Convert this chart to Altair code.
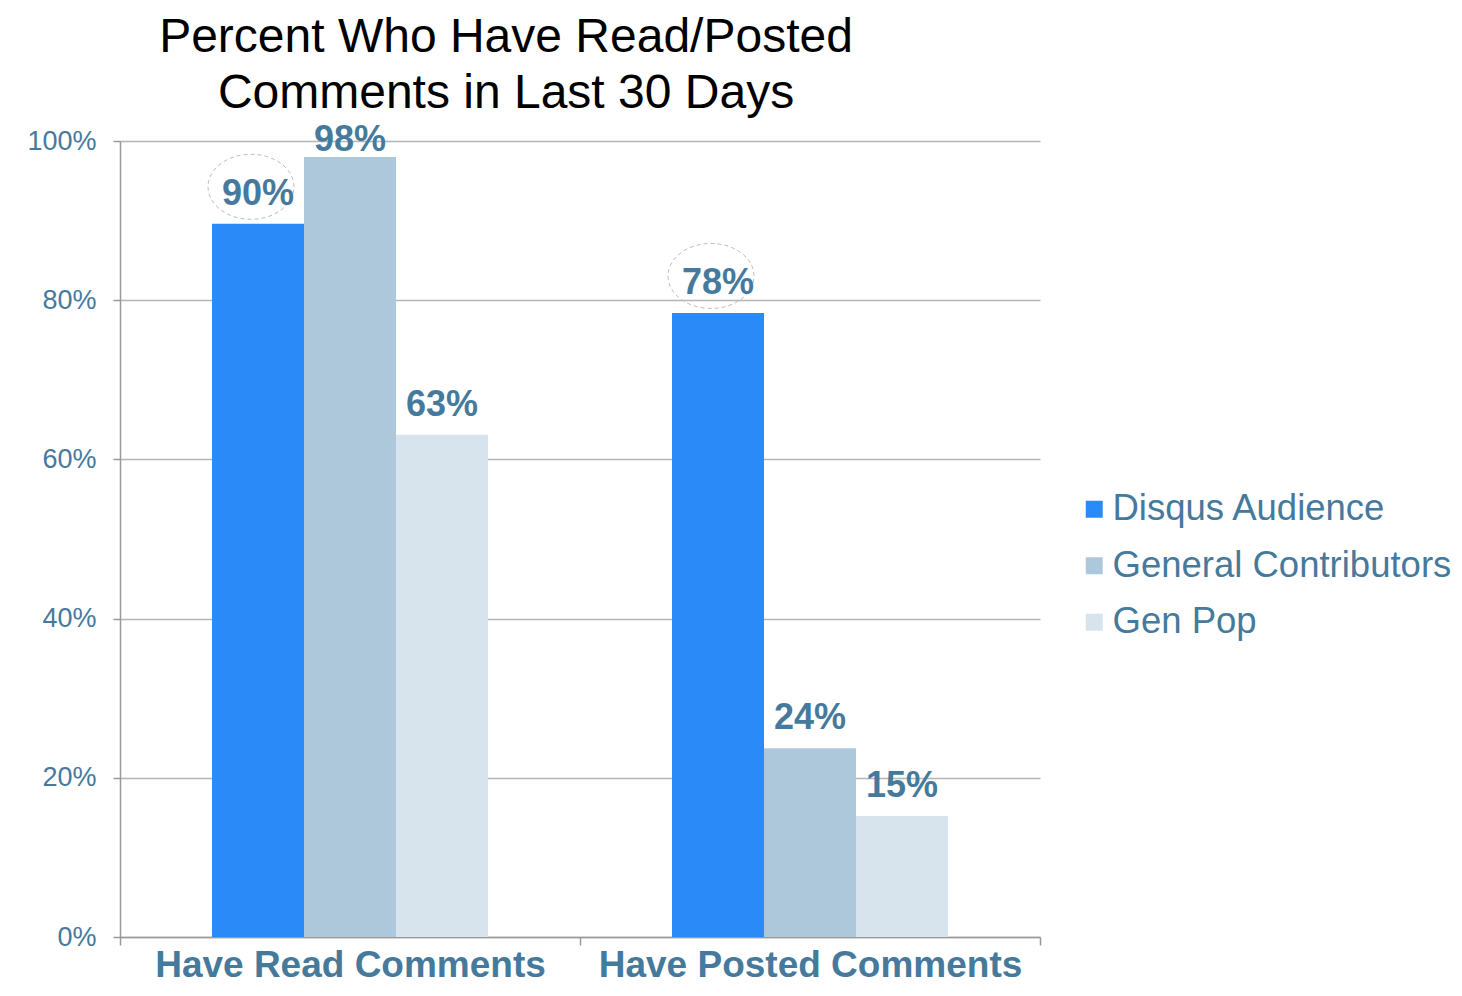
import altair as alt
import pandas as pd

categories = ["Have Read Comments", "Have Posted Comments"]
series = ["Disqus Audience", "General Contributors", "Gen Pop"]
read_values = [89.6, 98.0, 63.1]
posted_values = [78.4, 23.7, 15.2]
read_labels = ["90%", "98%", "63%"]
posted_labels = ["78%", "24%", "15%"]
colors = ["#2A8AF8", "#AEC8DB", "#D7E4EE"]
y_ticks = [0, 20, 40, 60, 80, 100]
title_lines = ["Percent Who Have Read/Posted", "Comments in Last 30 Days"]

rows = []
for cat, vals, labs in [(categories[0], read_values, read_labels),
                        (categories[1], posted_values, posted_labels)]:
    for s, v, l in zip(series, vals, labs):
        rows.append({"category": cat, "series": s, "value": v, "label": l})
df = pd.DataFrame(rows)

FONT = "Liberation Sans"
TXT = "#467A9C"

base = alt.Chart(df).encode(
    x=alt.X("category:N", sort=categories,
            scale=alt.Scale(paddingInner=0, paddingOuter=0),
            axis=alt.Axis(title=None, labelAngle=0, labelFontSize=37, labelFontWeight="bold",
                          labelFont=FONT, labelColor=TXT, labelPadding=2, labelLimit=700,
                          tickBand="extent", tickSize=8, tickColor="#999999", tickWidth=1.5,
                          domainColor="#999999", domainWidth=1.5, grid=False)),
    xOffset=alt.XOffset("series:N", sort=series,
                        scale=alt.Scale(paddingInner=0, paddingOuter=1)),
    y=alt.Y("value:Q", scale=alt.Scale(domain=[0, 100], nice=False),
            axis=alt.Axis(title=None, values=y_ticks, labelExpr="datum.value + '%'",
                          labelFontSize=27, labelFont=FONT, labelColor=TXT, labelPadding=17,
                          tickSize=7, tickColor="#999999", tickWidth=1.5,
                          domainColor="#999999", domainWidth=1.5,
                          gridColor="#b5b5b5", gridWidth=1.5)),
)

bars = base.mark_bar().encode(
    color=alt.Color("series:N", sort=series,
                    scale=alt.Scale(domain=series, range=colors),
                    legend=alt.Legend(title=None, orient="none", legendX=956, legendY=350,
                                      symbolType="square", symbolSize=289, symbolStrokeWidth=0,
                                      labelFontSize=36.5, labelFont=FONT, labelColor=TXT,
                                      labelOffset=0, rowPadding=19.5, labelLimit=600))
)

text_normal = base.transform_filter("datum.value < 95").mark_text(
    baseline="alphabetic", dy=-19, fontSize=36, fontWeight="bold", font=FONT, color=TXT
).encode(text="label:N")

text_top = base.transform_filter("datum.value >= 95").mark_text(
    baseline="alphabetic", dy=-6, fontSize=36, fontWeight="bold", font=FONT, color=TXT
).encode(text="label:N")

# dashed ellipse (unit path, centred a little above-left of the bar top)
ellipse_path = "M-1.163,-0.86A1,0.756,0,1,0,0.837,-0.86A1,0.756,0,1,0,-1.163,-0.86Z"
ellipses = base.transform_filter(alt.datum.series == series[0]).mark_point(
    shape=ellipse_path, size=7396, filled=False, stroke="#bdbdbd", strokeWidth=1,
    strokeDash=[4, 3], opacity=1
)

chart = alt.layer(bars, ellipses, text_normal, text_top).properties(
    width=920, height=796,
    title=alt.TitleParams(title_lines, fontSize=48, fontWeight="normal", font=FONT,
                          color="black", anchor="middle", dx=-74, lineHeight=56, offset=4),
    autosize=alt.AutoSizeParams(type="none"),
    padding={"left": 112, "top": 133, "right": 414, "bottom": 46},
).configure_view(stroke=None)

chart.save("out.html", embed_options={"renderer": "svg", "actions": False})
